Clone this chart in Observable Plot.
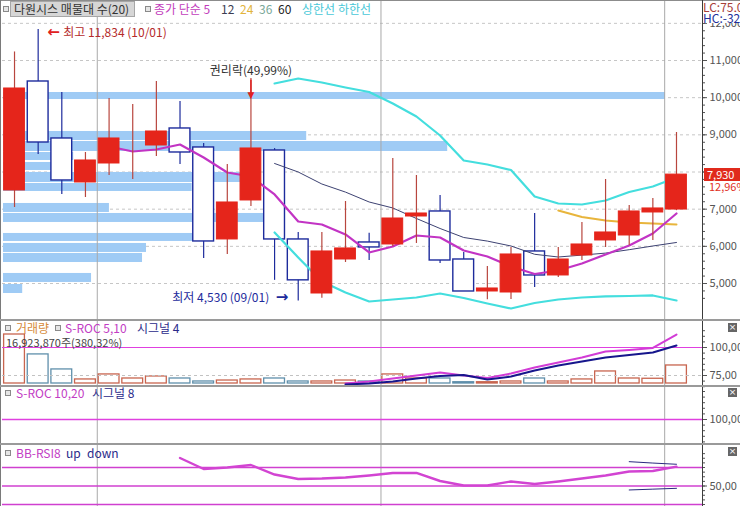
<!DOCTYPE html>
<html><head><meta charset="utf-8">
<script src="https://cdn.jsdelivr.net/npm/d3@7"></script>
<script src="https://cdn.jsdelivr.net/npm/@observablehq/plot@0.6"></script>
<style>
body{margin:0;background:#fff;}
#wrap{position:relative;width:740px;height:506px;overflow:hidden;background:#fff;font-family:"Noto Sans CJK KR","Noto Sans",sans-serif;}
.layer{position:absolute;left:0;}
.t{position:absolute;white-space:nowrap;line-height:14px;font-size:12px;}
.sq{position:absolute;width:4px;height:4px;border:1px solid #8a8a8a;background:#e6e6e6;}
.ln{position:absolute;}
.xb{position:absolute;width:9px;height:9px;background:#666;color:#fff;font-size:9px;line-height:9px;text-align:center;font-family:"DejaVu Sans",sans-serif;}
</style></head>
<body><div id="wrap"></div>
<script>
// ---------- data ----------
const opens  = [7503,10435,8902,7718,8229,8900,8713,9171,8660,6185,7234,8579,6185,4731,5646,6104,6050,6803,6938,5646,4785,4758,5862,5216,5754,6158,6292,6911,6990];
const highs  = [11230,11834,10139,8525,9978,9816,10435,9897,8767,8202,10516,8630,6373,6373,7207,6350,8364,7906,7368,5834,5458,5969,6884,5969,6642,7799,7099,7287,9063];
const lows   = [7045,8471,7395,7314,7906,7799,8417,8202,5673,5777,7072,5085,4530,4600,5565,5620,5990,6077,5539,4785,4560,4570,4893,5162,5619,5969,6023,6158,6960];
const closes = [10247,8794,7772,8310,8902,8900,9090,8525,6131,7180,8633,6185,5085,5862,5943,5970,6749,6884,5619,4785,4866,5781,5216,5646,6050,6373,6938,7019,7930];
const volumes = [46.0,27.3,13.2,3.8,8.5,4.7,6.6,4.7,1.9,2.8,3.8,4.7,1.9,1.9,2.8,1.9,8.5,4.7,4.7,1.2,1.2,1.9,4.7,1.9,3.8,11.3,4.7,4.45,16.92]; // million shares

const ma5  = [null,null,null,null,8686,8552,8606,8740,8390,7987,7879,7395,6669,6588,6319,5835,5996,6292,6238,5888,5727,5458,5256,5350,5539,5781,6023,6346,6884];
const ma12 = [null,null,null,null,null,null,null,null,null,null,null,8229,8000,7677,7459,7193,7032,6749,6480,6238,6141,6009,5786,5713,5764,5818,5910,6009,6104];
const ma24 = [null,null,null,null,null,null,null,null,null,null,null,null,null,null,null,null,null,null,null,null,null,null,null,6965,6790,6696,6642,6615,6588];
const bbUpper = [null,null,null,null,null,null,null,null,null,null,null,10381,10516,10408,10274,10153,9843,9493,8982,8310,8202,8054,7341,7153,7126,7234,7463,7610,7852];
const bbLower = [null,null,null,null,null,null,null,null,null,null,null,6373,5700,5054,4758,4516,4570,4624,4731,4610,4462,4328,4476,4570,4624,4651,4664,4678,4543];

const sroc5  = [null,null,null,null,null,null,null,null,null,null,null,null,null,null,67.9,69.6,72.3,75,77.7,75,72.8,76.8,82.1,86.6,91.1,96.4,97.8,99.6,111.6];
const signal4= [null,null,null,null,null,null,null,null,null,null,null,null,null,null,67,67.9,69.6,72.3,74.6,75.4,71.4,74.1,79.5,83.9,87.5,91.1,93.3,95.5,101.8];

const rsi8   = [null,null,null,null,null,null,null,80.3,68.4,70,72.7,62.4,57.6,58.1,59.2,61.4,64.1,64.1,55.4,50.5,50.5,54.9,52.2,54.9,58.1,61.4,65.7,66.2,70.9];
const rsiUp  = [null,null,null,null,null,null,null,null,null,null,null,null,null,null,null,null,null,null,null,null,null,null,null,null,null,null,76.3,74.8,73.5];
const rsiDown= [null,null,null,null,null,null,null,null,null,null,null,null,null,null,null,null,null,null,null,null,null,null,null,null,null,null,45.7,46.6,47.5];
const rsiLevels = [30,50,70];

// volume profile (매물대): price band low/high and relative volume
const profLo  = [9950,8848,8552,8310,8041,7718,7476,6911,6642,6131,5835,5565,5028,4731];
const profHi  = [10139,9090,8821,8525,8256,7987,7691,7153,6884,6346,6077,5808,5270,4973];
const profVol = [100,45.8,67.1,10.6,8.9,35.8,28.5,16,41.7,31.7,21.6,21,13.3,2.9];

const periodStarts = [4,16,28];
const priceTicks = [5000,6000,7000,8000,9000,10000,11000,12000];
const lastPrice = 7930, lastChange = "12,96%";
const hiNote  = {i:1, v:11834, label:"최고 11,834 (10/01)"};
const loNote  = {i:12, v:4530, label:"최저 4,530 (09/01)"};
const rightsNote = {i:10, top:10470, tip:10060, label:"권리락(49,99%)"};

// ---------- helpers ----------
const FONT = '"Noto Sans CJK KR","Noto Sans",sans-serif';
const RED = "#e5251b", REDWICK = "#b8463e", NAVY = "#1d2b9c", CYAN = "#44dede", MAG = "#c234c4";
const W = 740;
const candles = opens.map((o,i)=>({i, o, h:highs[i], l:lows[i], c:closes[i], v:volumes[i], up: closes[i] >= o}));
const upC = candles.filter(d=>d.up), dnC = candles.filter(d=>!d.up);
const ser = arr => arr.map((v,i)=>({i, v}));
const profile = profLo.map((lo,k)=>({lo, hi:profHi[k], vol:profVol[k]}));
const fmt2 = d => d.toFixed(2).replace(".", ",");
const X = {type:"linear", domain:[-0.5, 29.1], range:[2.2, 702], axis:null};
const base = {width:W, marginLeft:2, marginRight:38, marginTop:0, marginBottom:0};
const sty = {background:"transparent", fontFamily:FONT, fontSize:"12px", overflow:"visible"};
const bx1 = d=>d.i-0.44, bx2 = d=>d.i+0.44;
const periodRules = Plot.ruleX(periodStarts, {x:d=>d-0.5, stroke:"#a9a9a9"});

const wrap = document.getElementById("wrap");
function place(node, top){ const d=document.createElement("div"); d.className="layer"; d.style.top=top+"px"; d.appendChild(node); wrap.appendChild(d); return node; }

// ---------- main panel ----------
const profPlot = Plot.plot({...base, height:320, style:sty,
  x:{domain:[0,100], range:[3,665], axis:null},
  y:{domain:[5000,11000], range:[283,60], axis:null},
  marks:[
    Plot.ruleY(priceTicks, {stroke:"#c6c6c6", strokeDasharray:"3,3"}),
    Plot.rect(profile, {x1:0, x2:"vol", y1:"lo", y2:"hi", fill:"#9fcbf5"})
  ]});
place(profPlot, 0);

const mainPlot = Plot.plot({...base, height:320, style:sty, x:X,
  y:{domain:[5000,11000], range:[283,60], axis:null},
  marks:[
    periodRules,
    Plot.ruleX(dnC, {x:"i", y1:"l", y2:"h", stroke:NAVY, strokeWidth:1.2}),
    Plot.rect(dnC, {x1:bx1, x2:bx2, y1:"o", y2:"c", fill:"#fff", stroke:NAVY, strokeWidth:1.4}),
    Plot.line(ser(bbUpper), {x:"i", y:"v", stroke:CYAN, strokeWidth:2.2}),
    Plot.line(ser(bbLower), {x:"i", y:"v", stroke:CYAN, strokeWidth:2.2}),
    Plot.line(ser(ma12), {x:"i", y:"v", stroke:"#3d4272", strokeWidth:1}),
    Plot.line(ser(ma24), {x:"i", y:"v", stroke:"#e8b53c", strokeWidth:2}),
    Plot.line(ser(ma5), {x:"i", y:"v", stroke:MAG, strokeWidth:2.2}),
    Plot.ruleX(upC, {x:"i", y1:"l", y2:"h", stroke:REDWICK, strokeWidth:1.2}),
    Plot.rect(upC, {x1:bx1, x2:bx2, y1:"o", y2:"c", fill:RED, stroke:RED, strokeWidth:1}),
    // annotations
    Plot.text([hiNote], {x:"i", y:"v", text:()=>"←", textAnchor:"start", dx:9, dy:3, fill:"#e02020", fontSize:15, fontWeight:"bold", fontFamily:"DejaVu Sans"}),
    Plot.text([hiNote], {x:"i", y:"v", text:"label", textAnchor:"start", dx:25, dy:4, fill:"#b52a2a", fontSize:12}),
    Plot.ruleX([rightsNote], {x:"i", y1:"top", y2:"tip", stroke:"#e02020", strokeWidth:1.5}),
    Plot.text([rightsNote], {x:"i", y:"tip", text:()=>"▼", fill:"#e02020", fontSize:9, fontFamily:"DejaVu Sans", dy:0}),
    Plot.text([rightsNote], {x:"i", y:"top", text:"label", fill:"#333", fontSize:12, dy:-9}),
    Plot.text([loNote], {x:"i", y:"v", text:"label", textAnchor:"end", dx:-29, dy:-3, fill:NAVY, fontSize:12}),
    Plot.text([loNote], {x:"i", y:"v", text:()=>"→", textAnchor:"end", dx:-10, dy:-4, fill:NAVY, fontSize:15, fontWeight:"bold", fontFamily:"DejaVu Sans"}),
    Plot.axisY({anchor:"right", ticks:d3.range(4600,12201,200), tickSize:2, tickFormat:()=>"", color:"#555", label:null}),
    Plot.axisY({anchor:"right", ticks:priceTicks, tickFormat:d3.format(","), tickSize:4, tickPadding:3, fontSize:11, color:"#555", label:null})
  ]});
place(mainPlot, 0);

// ---------- volume + S-ROC 5,10 ----------
const volPlot = Plot.plot({...base, height:65, style:sty, x:X,
  y:{domain:[0,46], range:[63,14], axis:null},
  marks:[
    periodRules,
    Plot.rect(candles.filter(d=>!d.up), {x1:bx1, x2:bx2, y1:0, y2:"v", fill:"none", stroke:"#5f8fab", strokeWidth:1.3}),
    Plot.rect(candles.filter(d=>d.up), {x1:bx1, x2:bx2, y1:0, y2:"v", fill:"none", stroke:"#c8654f", strokeWidth:1.3})
  ]});
place(volPlot, 320);

const srocPlot = Plot.plot({...base, height:65, style:sty, x:X,
  y:{domain:[75,100], range:[55,27], axis:null},
  marks:[
    Plot.ruleY([75], {stroke:"#c2c2c2", strokeDasharray:"3,3"}),
    Plot.ruleY([100], {stroke:"#e040e0", strokeWidth:1.2}),
    Plot.line(ser(sroc5), {x:"i", y:"v", stroke:"#d23cd6", strokeWidth:2}),
    Plot.line(ser(signal4), {x:"i", y:"v", stroke:"#16168c", strokeWidth:2}),
    Plot.axisY({anchor:"right", ticks:d3.range(65,116,5), tickSize:2, tickFormat:()=>"", color:"#555", label:null}),
    Plot.axisY({anchor:"right", ticks:[75,100], tickFormat:fmt2, tickSize:4, tickPadding:3, fontSize:11, color:"#555", label:null})
  ]});
place(srocPlot, 320);

// ---------- S-ROC 10,20 ----------
const sroc2Plot = Plot.plot({...base, height:58, style:sty, x:X,
  y:{domain:[75,125], range:[62,6], axis:null},
  marks:[
    periodRules,
    Plot.ruleY([100], {stroke:"#e040e0", strokeWidth:1.3}),
    Plot.axisY({anchor:"right", ticks:d3.range(80,126,5), tickSize:2, tickFormat:()=>"", color:"#555", label:null}),
    Plot.axisY({anchor:"right", ticks:[100], tickFormat:fmt2, tickSize:4, tickPadding:3, fontSize:11, color:"#555", label:null})
  ]});
place(sroc2Plot, 385);

// ---------- BB-RSI8 ----------
const rsiPlot = Plot.plot({...base, height:63, style:sty, x:X,
  y:{domain:[30,70], range:[61,24], axis:null},
  marks:[
    periodRules,
    Plot.ruleY(rsiLevels, {y:d=>d, stroke:"#d040d0", strokeWidth:1.4}),
    Plot.line(ser(rsi8), {x:"i", y:"v", stroke:"#d244d2", strokeWidth:2.4}),
    Plot.line(ser(rsiUp), {x:"i", y:"v", stroke:"#2a2a80", strokeWidth:1}),
    Plot.line(ser(rsiDown), {x:"i", y:"v", stroke:"#2a2a80", strokeWidth:1}),
    Plot.axisY({anchor:"right", ticks:d3.range(30,86,5), tickSize:2, tickFormat:()=>"", color:"#555", label:null}),
    Plot.axisY({anchor:"right", ticks:[50], tickFormat:fmt2, tickSize:4, tickPadding:3, fontSize:11, color:"#555", label:null})
  ]});
place(rsiPlot, 443);

// ---------- HTML overlays ----------
function box(left, top, w, h, bg, extra){ const d=document.createElement("div"); d.className="ln"; Object.assign(d.style,{left:left+"px",top:top+"px",width:w+"px",height:h+"px",background:bg}, extra||{}); wrap.appendChild(d); return d; }
function txt(s, left, cy, color, size, extra){ const d=document.createElement("div"); d.className="t"; d.textContent=s; Object.assign(d.style,{left:left+"px", top:(cy-7)+"px", color:color, fontSize:(size||12)+"px"}, extra||{}); wrap.appendChild(d); return d; }
function sq(left, cy){ const d=document.createElement("div"); d.className="sq"; d.style.left=left+"px"; d.style.top=(cy-3)+"px"; wrap.appendChild(d); }
function xb(left, cy){ const d=document.createElement("div"); d.className="xb"; d.textContent="×"; d.style.left=left+"px"; d.style.top=(cy-4)+"px"; wrap.appendChild(d); }

// frame lines
box(0,0,740,1,"#8c8c8c");
box(0,0,1,506,"#7a7a7a");
box(702,0,1,506,"#3c3c3c");
box(0,319,740,2,"#9a9a9a");
box(0,385,740,2,"#9a9a9a");
box(0,443,740,2,"#9a9a9a");

// main header
sq(3,9);
box(10,1,125,16,"#d6d6d6",{border:"1px solid #a6a6a6", boxSizing:"border-box"});
txt("다원시스 매물대 수(20)", 14, 9, "#333", 12);
sq(145,9);
txt("종가 단순 5", 154, 9, "#c23cbc", 12);
txt("12", 221, 9, "#3c3c52", 12);
txt("24", 240, 9, "#e2b43c", 12);
txt("36", 259, 9, "#7aa898", 12);
txt("60", 278, 9, "#222", 12);
txt("상한선", 302, 9, "#48c8d8", 12);
txt("하한선", 338, 9, "#48c8d8", 12);

// LC / HC
txt("LC:75,00", 703, 7, "#a8403a", 12, {background:"#fff", lineHeight:"11px", height:"11px", top:"1px"});
txt("HC:-32,0", 703, 18, "#22309a", 12, {background:"#fff", lineHeight:"11px", height:"11px", top:"12px"});

// current price label via the y scale
const py = mainPlot.scale("y").apply(lastPrice);
box(704, py-6.5, 40, 13, "#e02a1c");
txt(d3.format(",")(lastPrice), 707, py, "#fff", 11);
txt(lastChange, 709, py+12, "#e0301e", 11);

// volume panel header
sq(5,328); txt("거래량", 16, 328, "#d68a3a", 12);
sq(55,328); txt("S-ROC 5,10", 65, 328, "#c23cc4", 12);
txt("시그널 4", 137, 328, "#2a2a8a", 12);
txt("16,923,870주(380,32%)", 6, 342, "#444", 11);
xb(728, 327);

// S-ROC 10,20 header
sq(5,393); txt("S-ROC 10,20", 16, 393, "#c23cc4", 12);
txt("시그널 8", 92, 393, "#2a2a8a", 12);
xb(728, 392);

// BB-RSI header
sq(5,453); txt("BB-RSI8", 16, 453, "#c23cc4", 12);
txt("up", 66, 453, "#2a2a8a", 12);
txt("down", 87, 453, "#2a2a8a", 12);
xb(728, 451);
</script></body></html>
